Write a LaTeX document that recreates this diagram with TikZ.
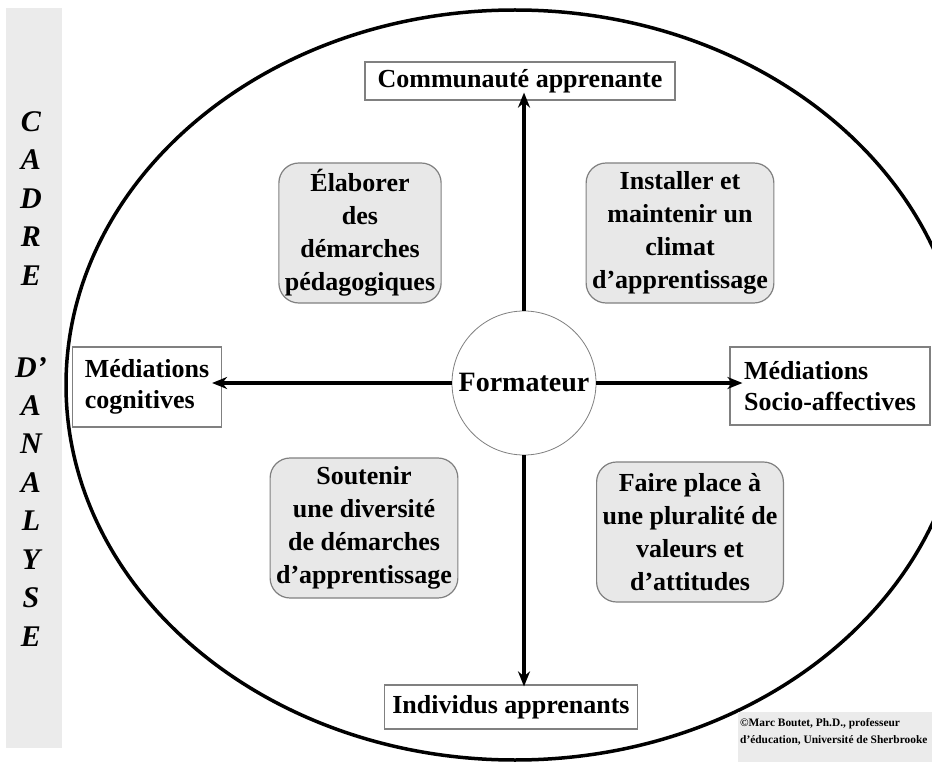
\documentclass[tikz,border=0pt]{standalone}
\usepackage{fontspec}
\setmainfont{Liberation Serif}
\usetikzlibrary{positioning,arrows.meta}
\definecolor{bandgray}{HTML}{EBEBEB}
\definecolor{taskgray}{HTML}{E8E8E8}
\definecolor{edgegray}{HTML}{808080}

\begin{document}
\begin{tikzpicture}[x=1pt, y=-1pt, >={Stealth[length=15pt,width=12pt]},
    pole/.style={draw=edgegray, line width=1.2pt, fill=white, inner sep=4pt,
        font=\fontsize{26}{31}\selectfont\bfseries},
    task/.style={draw=edgegray, line width=1.2pt, fill=taskgray, rounded corners=20pt,
        align=center, inner sep=6pt, minimum height=140pt,
        font=\fontsize{26}{33}\selectfont\bfseries},
    axis/.style={->, line width=3.5pt}]
    \useasboundingbox (0,0) rectangle (932,762);
    \clip (0,0) rectangle (932,762);
    \fill[white] (0,0) rectangle (932,762);

    % Side band
    \fill[bandgray] (6,8) rectangle (62,748);
    \foreach \ch/\yy [count=\i] in {C/122, A/160, D/199, R/237, E/276,
        D’/368, A/406, N/444, A/483, L/521, Y/560, S/598, E/637} {
        \node[font=\fontsize{30}{30}\selectfont\bfseries\itshape] (band-\i) at (31,\yy) {\ch};
    }

    % Outer frame
    \draw[line width=3.5pt] (515,385) ellipse [x radius=449pt, y radius=375pt];

    % Poles
    \node[pole, minimum width=310pt, minimum height=38pt] (commu) at (520,81) {Communauté apprenante};
    \node[pole, minimum width=253pt, minimum height=44pt] (indiv) at (511,707) {Individus apprenants};
    \node[pole, align=left, minimum width=149pt, minimum height=80pt] (cogn) at (147,387) {Médiations\\cognitives};
    \node[pole, align=left, inner sep=3pt, minimum width=200pt, minimum height=78pt] (socio) at (830,386) {Médiations\\Socio-affectives};

    % Centre
    \node[circle, draw=edgegray, line width=0.8pt, fill=white, minimum size=144pt,
        font=\fontsize{28}{28}\selectfont\bfseries] (form) at (524,383) {Formateur};

    % Axes
    \draw[axis, shorten >=-8pt] (form.north) -- (form.north |- commu.south);
    \draw[axis, shorten >=-2pt] (form.south) -- (form.south |- indiv.north);
    \draw[axis, shorten >=-10pt] (form.west) -- (form.west -| cogn.east);
    \draw[axis, shorten >=-13pt] (form.east) -- (form.east -| socio.west);

    % Quadrants
    \node[task] (elab) at (360,233) {Élaborer\\des\\démarches\\pédagogiques};
    \node[task] (clim) at (680,233) {Installer et\\maintenir un\\climat\\d’apprentissage};
    \node[task] (dive) at (364,528) {Soutenir\\une diversité\\de démarches\\d’apprentissage};
    \node[task] (plur) at (690,532) {Faire place à\\une pluralité de\\valeurs et\\d’attitudes};

    % Credit
    \fill[bandgray] (738,712) rectangle (932,762);
    \node[anchor=north west, align=left, inner sep=0pt,
        font=\fontsize{11.4}{17}\selectfont\bfseries] (credit) at (740,718)
        {©Marc Boutet, Ph.D., professeur\\d’éducation, Université de Sherbrooke};
\end{tikzpicture}
\end{document}
